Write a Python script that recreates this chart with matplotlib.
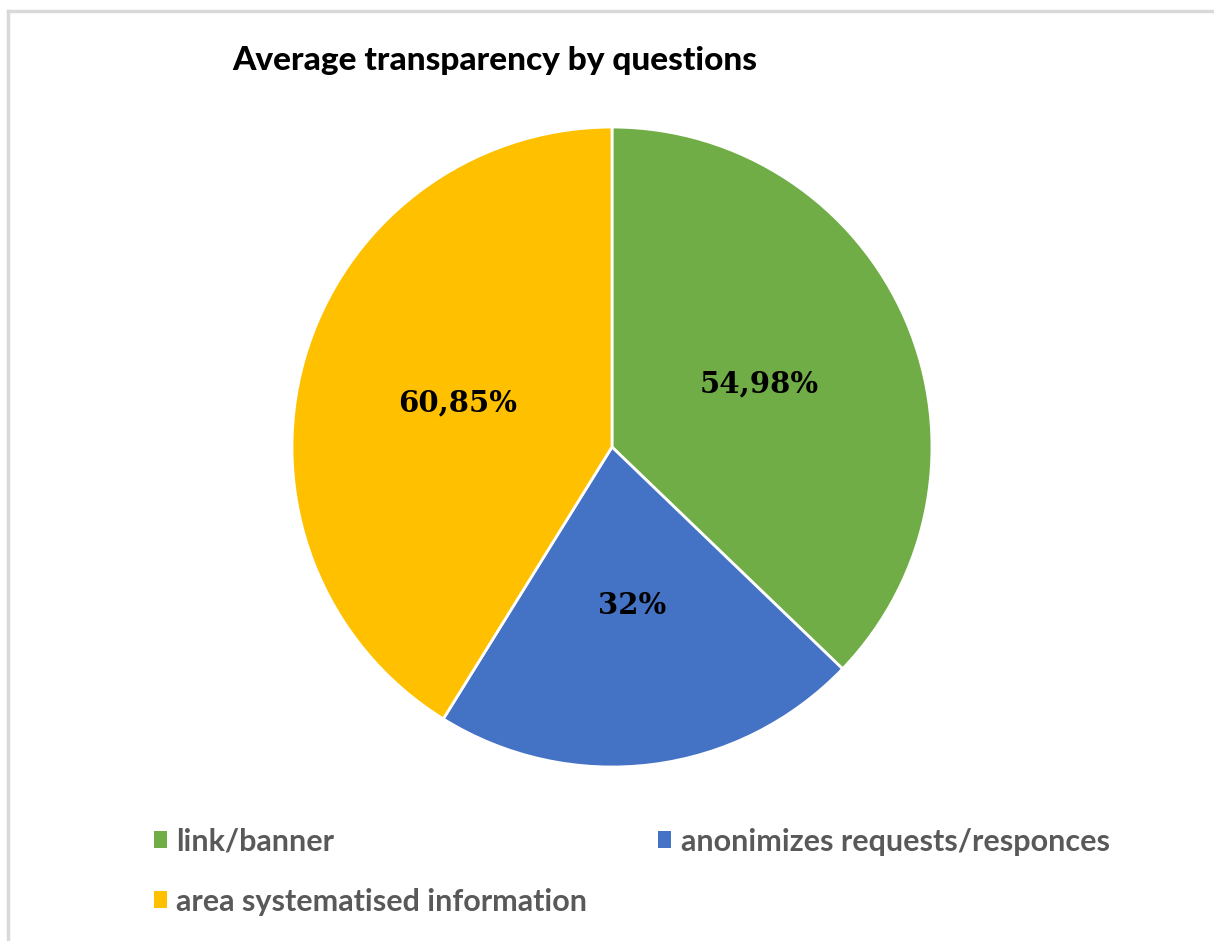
import matplotlib
matplotlib.use('Agg')
import matplotlib.pyplot as plt
from matplotlib.patches import Patch
from matplotlib.lines import Line2D

# Chart data
categories = ['link/banner', 'anonimizes requests/responces', 'area systematised information']
values = [54.98, 32, 60.85]
value_labels = ['54,98%', '32%', '60,85%']
colors = ['#70AD47', '#4472C4', '#FFC000']

fig = plt.figure(figsize=(12.14, 9.41), dpi=100)
fig.patch.set_facecolor('white')

# light grey frame (only top and left edges are visible)
fig.add_artist(Line2D([8 / 1214, 1], [1 - 11 / 941, 1 - 11 / 941], color='#d9d9d9', lw=2.5))
fig.add_artist(Line2D([8 / 1214, 8 / 1214], [0, 1 - 11 / 941], color='#d9d9d9', lw=2.5))

ax = fig.add_axes([0.2405, 0.1849, 0.5272, 0.6801])
wedges, texts = ax.pie(values, labels=value_labels, colors=colors, startangle=90,
                       counterclock=False, labeldistance=0.5,
                       wedgeprops=dict(edgecolor='white', linewidth=2),
                       textprops=dict(family='DejaVu Serif', fontweight='bold',
                                      fontsize=21, color='black'))
for t in texts:
    t.set_horizontalalignment('center')
    t.set_verticalalignment('center')
ax.set_xlim(-1, 1)
ax.set_ylim(-1, 1)
ax.set_aspect('equal')

fig.text(232 / 1214, 1 - 70 / 941, 'Average transparency by questions',
         family=['Lato', 'DejaVu Sans'], fontweight='black',
         fontsize=24, ha='left', va='baseline')

# legend, reordered so entries read row by row like the original
order = [0, 2, 1]
handles = [Patch(facecolor=colors[i], edgecolor='none') for i in order]
labels = [categories[i] for i in order]
fig.legend(handles, labels, loc='upper left', bbox_to_anchor=(126 / 1214, 1 - 800 / 941),
           ncol=2, frameon=False, handlelength=0.45, handleheight=0.45,
           handletextpad=0.3, columnspacing=2.3, labelspacing=1.05,
           prop=dict(family=['Lato', 'DejaVu Sans'], weight='bold', size=22),
           labelcolor='#595959')

fig.savefig('out.png', dpi=100, facecolor='white')
